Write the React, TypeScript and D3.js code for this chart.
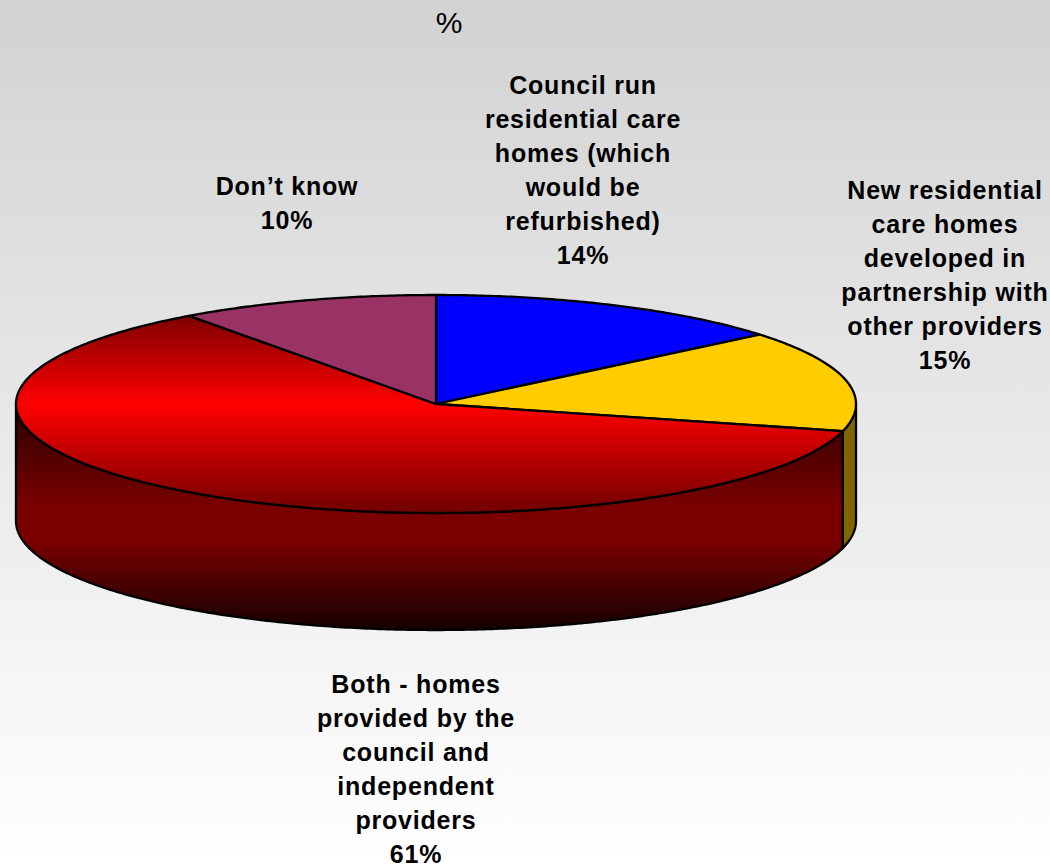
import React from "react";
import * as d3 from "d3";

const WIDTH = 1050;
const HEIGHT = 864;

const categories = [
  "Council run residential care homes (which would be refurbished)",
  "New residential care homes developed in partnership with other providers",
  "Both - homes provided by the council and independent providers",
  "Don\u2019t know",
];
const shares = [14, 15, 61, 10];

// Wrapped label lines for each slice, with the anchor of the first line.
const labelLines = [
  ["Council run", "residential care", "homes (which", "would be", "refurbished)", "14%"],
  ["New residential", "care homes", "developed in", "partnership with", "other providers", "15%"],
  ["Both - homes", "provided by the", "council and", "independent", "providers", "61%"],
  ["Don\u2019t know", "10%"],
];
const labelCentres = [583, 945, 416, 287];
const labelFirstBaselines = [94, 199, 693, 195];
const lineStep = 34;

const topFills = ["#0000ff", "#ffcc00", "url(#redTop)", "#993366"];

// The disc is a unit circle squashed into an ellipse by these two scales.
const px = d3.scaleLinear().domain([-1, 1]).range([16, 856]);
const py = d3.scaleLinear().domain([-1, 1]).range([295, 513]);
const depth = 117;

const pie = d3.pie<number>().sort(null).value((d) => d);
const slices = pie(shares);

const rim = (a0: number, a1: number): [number, number][] => {
  const steps = Math.max(2, Math.ceil(Math.abs(a1 - a0) / 0.01));
  return d3.range(steps + 1).map((i) => {
    const a = a0 + ((a1 - a0) * i) / steps;
    return [px(Math.sin(a)), py(-Math.cos(a))];
  });
};
const line = d3.line();

const wedgePath = (a0: number, a1: number) =>
  `${line([[px(0), py(0)], ...rim(a0, a1)])}Z`;

const wallPath = (a0: number, a1: number) => {
  const upper = rim(a0, a1);
  const lower = upper.map(([x, y]) => [x, y + depth] as [number, number]).reverse();
  return `${line([...upper, ...lower])}Z`;
};

// Only the front half of the disc shows its wall, from 3 o'clock round to 9 o'clock.
const frontStart = Math.PI / 2;
const frontEnd = (3 * Math.PI) / 2;
const walls = slices
  .map((s, i) => ({
    a0: Math.max(s.startAngle, frontStart),
    a1: Math.min(s.endAngle, frontEnd),
    i,
  }))
  .filter((w) => w.a1 > w.a0);
const wallFills = ["#000080", "#806600", "url(#redWall)", "#4d1a33"];

export default function App() {
  return (
    <svg
      width={WIDTH}
      height={HEIGHT}
      viewBox={`0 0 ${WIDTH} ${HEIGHT}`}
      style={{ position: "absolute", left: 0, top: 0, display: "block" }}
      role="img"
      aria-label={categories.join("; ")}
    >
      <defs>
        <linearGradient id="page" x1="0" y1="0" x2="0" y2="1">
          <stop offset="0" stopColor="#d2d2d2" />
          <stop offset="1" stopColor="#ffffff" />
        </linearGradient>
        <linearGradient id="redTop" gradientUnits="userSpaceOnUse" x1="0" y1="295" x2="0" y2="513">
          <stop offset="0" stopColor="#600000" />
          <stop offset="0.5" stopColor="#ff0000" />
          <stop offset="1" stopColor="#700000" />
        </linearGradient>
        <linearGradient id="redWall" gradientUnits="userSpaceOnUse" x1="0" y1="405" x2="0" y2="631">
          <stop offset="0" stopColor="#2a0000" />
          <stop offset="0.45" stopColor="#7a0000" />
          <stop offset="0.6" stopColor="#7a0000" />
          <stop offset="1" stopColor="#140000" />
        </linearGradient>
      </defs>
      <rect width={WIDTH} height={HEIGHT} fill="url(#page)" />

      <text x={449} y={33} textAnchor="middle" fontFamily="'Liberation Sans', Arial, sans-serif" fontSize={30}>
        %
      </text>

      <g stroke="#000" strokeWidth={2.3} strokeLinejoin="round">
        {walls.map((w) => (
          <path key={`wall-${w.i}`} d={wallPath(w.a0, w.a1)} fill={wallFills[w.i]} />
        ))}
        {slices.map((s, i) => (
          <path key={`top-${i}`} d={wedgePath(s.startAngle, s.endAngle)} fill={topFills[i]} />
        ))}
      </g>

      <g
        fontFamily="'Liberation Sans', Arial, sans-serif"
        fontSize={25}
        fontWeight={700}
        letterSpacing={0.8}
        textAnchor="middle"
        fill="#000"
      >
        {labelLines.map((lines, i) => (
          <text key={categories[i]} x={labelCentres[i]} y={labelFirstBaselines[i]}>
            {lines.map((t, j) => (
              <tspan key={j} x={labelCentres[i]} y={labelFirstBaselines[i] + j * lineStep}>
                {t}
              </tspan>
            ))}
          </text>
        ))}
      </g>
    </svg>
  );
}
